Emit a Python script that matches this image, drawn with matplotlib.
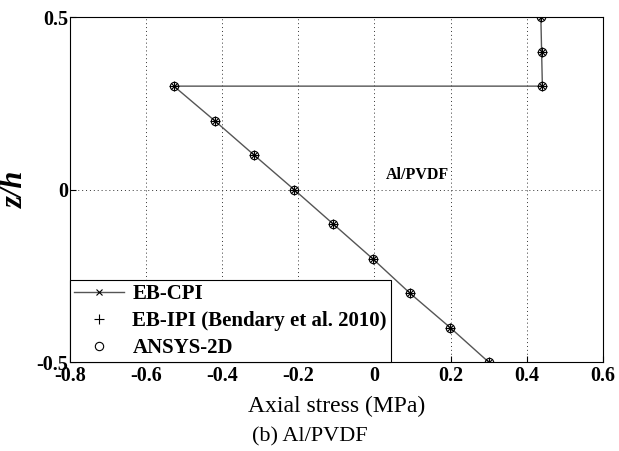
import numpy as np
import matplotlib
matplotlib.use("Agg")
import matplotlib.pyplot as plt

# through-thickness coordinate and axial stress (MPa)
z_lower = [-0.5, -0.4, -0.3, -0.2, -0.1, 0.0, 0.1, 0.2, 0.3]
s_lower = [0.30, 0.199, 0.093, -0.005, -0.108, -0.211, -0.316, -0.42, -0.527]
z_upper = [0.3, 0.4, 0.5]
s_upper = [0.441, 0.439, 0.437]

z_all = z_lower + z_upper
s_all = s_lower + s_upper

xticks = [-0.8, -0.6, -0.4, -0.2, 0, 0.2, 0.4, 0.6]
xticklabels = ["-0.8", "-0.6", "-0.4", "-0.2", "0", "0.2", "0.4", "0.6"]
yticks = [-0.5, 0, 0.5]
yticklabels = ["-0.5", "0", "0.5"]

serif = ["Liberation Serif", "DejaVu Serif"]
plt.rcParams["font.family"] = serif

fig = plt.figure(figsize=(6.19, 4.51), dpi=100)
ax = fig.add_axes([0.113, 0.197, 0.861, 0.765])

ax.plot(s_all, z_all, color="#555555", lw=1, marker="x", ms=5, mec="k",
        mew=0.8, label="EB-CPI", zorder=3)
ax.plot(s_all, z_all, ls="none", marker="+", ms=7, mec="k", mew=0.8,
        label="EB-IPI (Bendary et al. 2010)", zorder=4)
ax.plot(s_all, z_all, ls="none", marker="o", ms=6, mfc="none", mec="k",
        mew=0.8, label="ANSYS-2D", zorder=4)

ax.set_xlim(-0.8, 0.6)
ax.set_ylim(-0.5, 0.5)
ax.set_xticks(xticks)
ax.set_xticklabels(xticklabels, fontsize=14.5, fontweight="bold")
ax.set_yticks(yticks)
ax.set_yticklabels(yticklabels, fontsize=14.5, fontweight="bold")
ax.tick_params(direction="in", length=4, width=0.8, pad=1)
ax.tick_params(axis="x", pad=3)
ax.grid(True, ls=(0, (1, 3)), color="#333333", lw=0.7)
for sp in ax.spines.values():
    sp.set_linewidth(0.8)

ax.set_xlabel("Axial stress (MPa)", fontsize=17, labelpad=7)
ax.set_ylabel("z/h", fontsize=22, fontstyle="italic", fontweight="bold")
ax.yaxis.set_label_coords(-0.075, 0.5)

ax.text(0.03, 0.03, "Al/PVDF", fontsize=11.5, fontweight="bold")

leg = ax.legend(loc="lower left", bbox_to_anchor=(0, 0), borderaxespad=0,
                fancybox=False, edgecolor="k", framealpha=1,
                prop={"weight": "bold", "size": 15}, handlelength=2.4,
                labelspacing=0.33, borderpad=0.2, handletextpad=0.4)
leg.get_frame().set_linewidth(0.8)

fig.text(0.5, 0.022, "(b) Al/PVDF", ha="center", fontsize=16)

plt.savefig("out.png", dpi=100)
plt.close()
